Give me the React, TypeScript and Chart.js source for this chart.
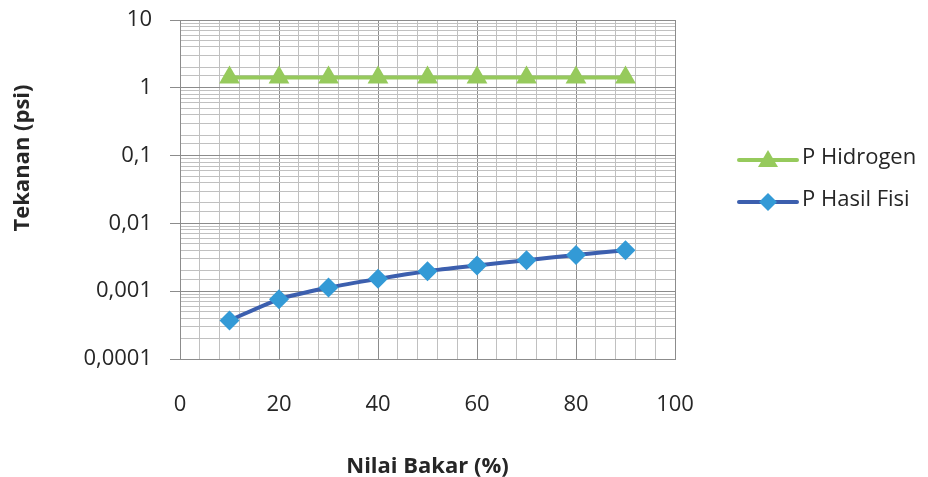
import React, { useEffect, useRef } from 'react';
import { Chart, registerables } from 'chart.js';

Chart.register(...registerables);

// ---- data ----
const nilaiBakar = [10, 20, 30, 40, 50, 60, 70, 80, 90];
const pHidrogen = [1.42, 1.42, 1.42, 1.42, 1.42, 1.42, 1.42, 1.42, 1.42];
const pHasilFisi = [0.00037, 0.00076, 0.00113, 0.00152, 0.00197, 0.00239, 0.00287, 0.00343, 0.00402];
const seriesNames = ['P Hidrogen', 'P Hasil Fisi'];
const yTickValues = [0.0001, 0.001, 0.01, 0.1, 1, 10];
const yTickLabels = ['0,0001', '0,001', '0,01', '0,1', '1', '10'];
const xMajorTicks = [0, 20, 40, 60, 80, 100];
const xTitle = 'Nilai Bakar (%)';
const yTitle = 'Tekanan (psi)';

const FONT = "'Open Sans', 'DejaVu Sans', sans-serif";
const TEXT = '#262626';
const GREEN = '#96ca5c';
const BLUE_LINE = '#3c5fae';
const BLUE_MARK = '#339ad6';
const GRID_MINOR = '#c0c0c0';
const GRID_MAJOR = '#8c8c8c';

const isDecade = (v: number) => Math.abs(Math.log10(v) - Math.round(Math.log10(v))) < 1e-6;

const overlayPlugin = {
  id: 'overlay',
  afterDraw(chart: any) {
    const ctx = chart.ctx as CanvasRenderingContext2D;
    ctx.save();
    // y-axis title
    ctx.translate(23, 158);
    ctx.rotate(-Math.PI / 2);
    ctx.font = `bold 22px ${FONT}`;
    ctx.fillStyle = TEXT;
    ctx.textAlign = 'center';
    ctx.textBaseline = 'middle';
    ctx.fillText(yTitle, 0, 0);
    ctx.restore();

    // legend
    const items = [
      { y: 160, color: GREEN, mark: GREEN, style: 'triangle', r: 10 },
      { y: 202, color: BLUE_LINE, mark: BLUE_MARK, style: 'rectRot', r: 9 },
    ];
    items.forEach((it, i) => {
      ctx.save();
      ctx.strokeStyle = it.color;
      ctx.lineWidth = 4;
      ctx.lineCap = 'round';
      ctx.beginPath();
      ctx.moveTo(739, it.y);
      ctx.lineTo(797, it.y);
      ctx.stroke();
      ctx.fillStyle = it.mark;
      ctx.beginPath();
      const cx = 768;
      if (it.style === 'triangle') {
        ctx.moveTo(cx, it.y - it.r);
        ctx.lineTo(cx + it.r, it.y + it.r * 0.7);
        ctx.lineTo(cx - it.r, it.y + it.r * 0.7);
      } else {
        ctx.moveTo(cx, it.y - it.r);
        ctx.lineTo(cx + it.r, it.y);
        ctx.lineTo(cx, it.y + it.r);
        ctx.lineTo(cx - it.r, it.y);
      }
      ctx.closePath();
      ctx.fill();
      ctx.font = `22px ${FONT}`;
      ctx.fillStyle = TEXT;
      ctx.textAlign = 'left';
      ctx.textBaseline = 'middle';
      ctx.fillText(seriesNames[i], 802, it.y - 2);
      ctx.restore();
    });
  },
};

export default function App() {
  const ref = useRef<HTMLCanvasElement | null>(null);

  useEffect(() => {
    if (!ref.current) return;
    const chart = new Chart(ref.current, {
      type: 'line',
      data: {
        datasets: [
          {
            label: seriesNames[0],
            data: nilaiBakar.map((x, i) => ({ x, y: pHidrogen[i] })),
            borderColor: GREEN,
            backgroundColor: GREEN,
            borderWidth: 4,
            pointStyle: 'triangle',
            pointRadius: 12,
            pointBorderWidth: 0,
            pointBackgroundColor: GREEN,
            tension: 0,
          },
          {
            label: seriesNames[1],
            data: nilaiBakar.map((x, i) => ({ x, y: pHasilFisi[i] })),
            borderColor: BLUE_LINE,
            backgroundColor: BLUE_MARK,
            borderWidth: 4,
            pointStyle: 'rectRot',
            pointRadius: 10,
            pointBorderWidth: 0,
            pointBackgroundColor: BLUE_MARK,
            tension: 0.25,
          },
        ],
      },
      options: {
        animation: false,
        responsive: true,
        maintainAspectRatio: false,
        layout: { padding: { top: 20, right: 253, left: 0, bottom: 0 } },
        plugins: {
          legend: { display: false },
          tooltip: { enabled: false },
        },
        scales: {
          x: {
            type: 'linear',
            min: 0,
            max: 100,
            afterFit: (s: any) => {
              s.height = 118;
              s.paddingLeft = 0;
              s.paddingRight = 0;
            },
            ticks: {
              stepSize: 4,
              autoSkip: false,
              maxRotation: 0,
              padding: 33,
              color: TEXT,
              font: { family: FONT, size: 22 },
              callback: (v: any) => (xMajorTicks.includes(Number(v)) ? String(v) : ''),
            },
            grid: {
              drawTicks: false,
              color: (c: any) => (c.tick && c.tick.value % 20 === 0 ? GRID_MAJOR : GRID_MINOR),
              lineWidth: 1,
            },
            border: { color: GRID_MAJOR, width: 1 },
            title: {
              display: true,
              text: xTitle,
              color: TEXT,
              font: { family: FONT, size: 22, weight: 'bold' },
              padding: { top: 0, bottom: -3 },
            },
          },
          y: {
            type: 'logarithmic',
            min: 0.0001,
            max: 10,
            afterFit: (s: any) => {
              s.width = 180;
              s.paddingTop = 0;
              s.paddingBottom = 0;
            },
            ticks: {
              autoSkip: false,
              padding: 18,
              color: TEXT,
              font: { family: FONT, size: 22 },
              callback: (v: any) => {
                const idx = yTickValues.findIndex((t) => Math.abs(Math.log10(t) - Math.log10(Number(v))) < 1e-6);
                return idx >= 0 ? yTickLabels[idx] : '';
              },
            },
            grid: {
              drawTicks: true,
              tickLength: 10,
              color: (c: any) => (c.tick && isDecade(c.tick.value) ? GRID_MAJOR : GRID_MINOR),
              tickColor: (c: any) => (c.tick && isDecade(c.tick.value) ? GRID_MAJOR : 'rgba(0,0,0,0)'),
              lineWidth: 1,
            },
            border: { color: GRID_MAJOR, width: 1 },
          },
        },
      } as any,
      plugins: [overlayPlugin],
    });
    return () => chart.destroy();
  }, []);

  return (
    <div style={{ position: 'fixed', left: 0, top: 0, width: 928, height: 477, background: '#ffffff' }}>
      <canvas ref={ref} />
    </div>
  );
}
